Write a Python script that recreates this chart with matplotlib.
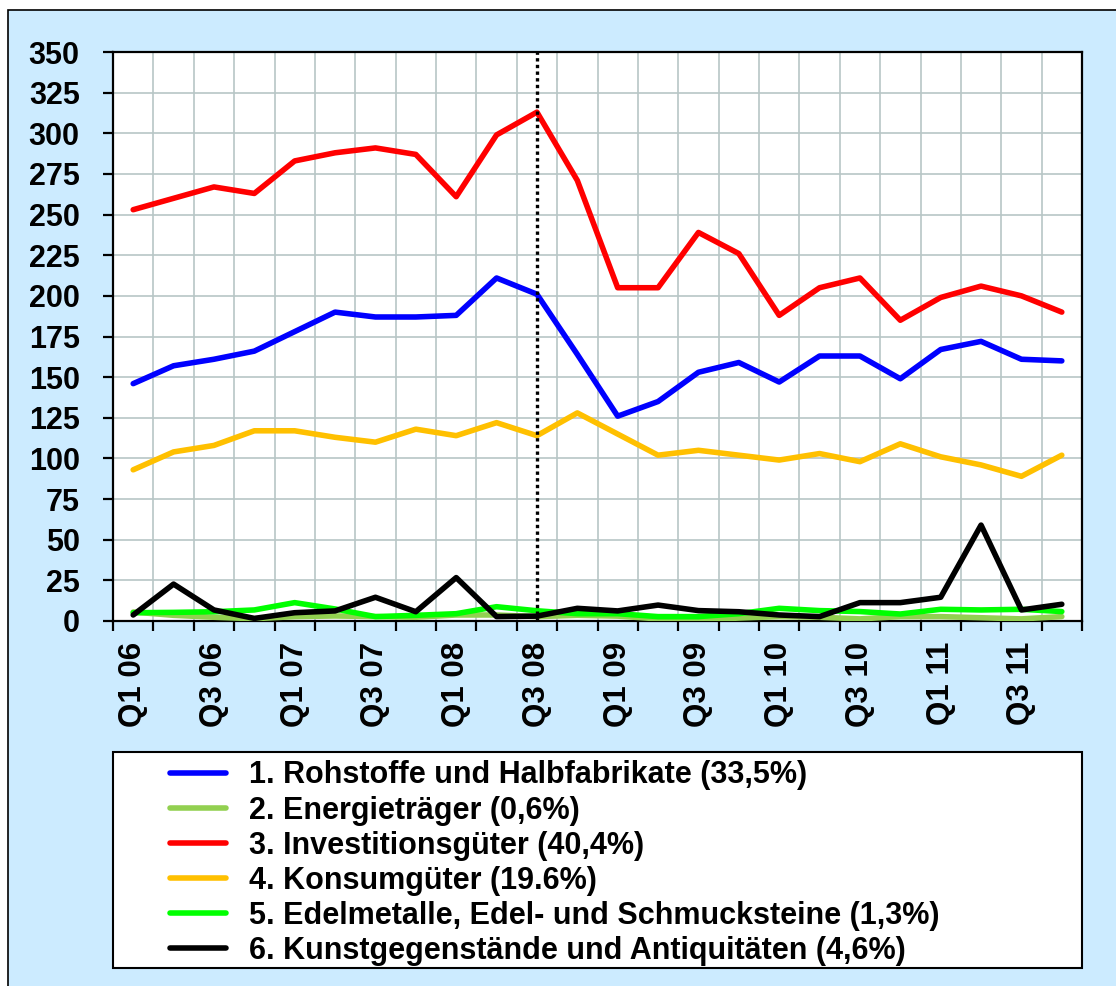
import numpy as np
import matplotlib
matplotlib.use("Agg")
import matplotlib.pyplot as plt
from matplotlib.patches import Rectangle
from matplotlib.ticker import MultipleLocator, FixedLocator

plt.rcParams['font.family'] = ['Liberation Sans', 'DejaVu Sans']
plt.rcParams['font.weight'] = 'bold'

# quarters Q1 06 .. Q4 11
quarters = [f"Q{q} {y:02d}" for y in range(6, 12) for q in range(1, 5)]

rohstoffe = [146, 157, 161, 166, 178, 190, 187, 187, 188, 211, 201, 164,
             126, 135, 153, 159, 147, 163, 163, 149, 167, 172, 161, 160]
energie = [5.5, 3.5, 2.3, 1.4, 2.7, 3.1, 2.7, 2.3, 3.7, 3.7, 2.7, 3.5,
           3.0, 1.3, 0.7, 1.8, 2.7, 2.3, 1.3, 2.7, 2.7, 2.0, 1.3, 2.7]
investition = [253, 260, 267, 263, 283, 288, 291, 287, 261, 299, 313, 271,
               205, 205, 239, 226, 188, 205, 211, 185, 199, 206, 200, 190]
konsum = [93, 104, 108, 117, 117, 113, 110, 118, 114, 122, 114, 128,
          115, 102, 105, 102, 99, 103, 98, 109, 101, 96, 89, 102]
edelmetalle = [5.1, 5.3, 5.7, 6.8, 11.3, 7.4, 2.7, 3.5, 4.5, 8.8, 6.3, 4.5,
               4.5, 2.7, 2.7, 4.5, 7.8, 6.4, 5.8, 4.3, 7.2, 6.8, 7.2, 5.8]
kunst = [3.7, 22.7, 6.8, 1.6, 5.1, 6.2, 14.6, 5.7, 26.7, 2.7, 3.0, 7.8,
         6.2, 9.8, 6.4, 5.7, 3.7, 2.7, 11.3, 11.3, 14.6, 59, 6.8, 10.3]

series = [
    ("1. Rohstoffe und Halbfabrikate (33,5%)", rohstoffe, "#0000FF"),
    ("2. Energieträger (0,6%)", energie, "#92D050"),
    ("3. Investitionsgüter (40,4%)", investition, "#FF0000"),
    ("4. Konsumgüter (19.6%)", konsum, "#FFC000"),
    ("5. Edelmetalle, Edel- und Schmucksteine (1,3%)", edelmetalle, "#00FF00"),
    ("6. Kunstgegenstände und Antiquitäten (4,6%)", kunst, "#000000"),
]
crisis_idx = 10  # Q3 08

W, H = 1116, 986
fig = plt.figure(figsize=(W / 100, H / 100), dpi=100)
fig.patch.set_facecolor("white")

# light blue chart area with black border
fig.add_artist(Rectangle((8 / W, -0.1), 1.2, 1 - 10 / H + 0.1, transform=fig.transFigure,
                         facecolor="#CCEBFF", edgecolor="black", lw=1.2, zorder=-2))
# legend box
fig.add_artist(Rectangle((113 / W, 1 - 968 / H), (1082 - 113) / W, (968 - 752) / H,
                         transform=fig.transFigure, facecolor="white",
                         edgecolor="black", lw=1.5, zorder=1))

ax = fig.add_axes([113 / W, 1 - 621 / H, (1082 - 113) / W, (621 - 52) / H])
ax.set_facecolor("white")

x = np.arange(len(quarters))
for name, vals, col in series:
    ax.plot(x, vals, color=col, lw=4.0, label=name,
            solid_joinstyle="round", solid_capstyle="round", zorder=3)

ax.axvline(crisis_idx, color="black", lw=2.4, linestyle=(0, (1, 1)), zorder=4)

ax.set_xlim(-0.5, len(quarters) - 0.5)
ax.set_ylim(0, 350)
ax.yaxis.set_major_locator(MultipleLocator(25))
ax.set_xticks(x[::2])
ax.set_xticklabels(quarters[::2], rotation=90)
ax.xaxis.set_minor_locator(FixedLocator(np.arange(-0.5, len(quarters), 1)))

ax.grid(True, axis="y", which="major", color="#B7C6C6", lw=1.2, zorder=0)
ax.grid(True, axis="x", which="minor", color="#B7C6C6", lw=1.2, zorder=0)
ax.set_axisbelow(True)

for s in ax.spines.values():
    s.set_linewidth(1.6)
    s.set_color("black")

ax.tick_params(axis="y", which="major", direction="out", length=7.5, width=1.6,
               labelsize=22, pad=16.5)
ax.tick_params(axis="x", which="major", length=0, labelsize=22.5, pad=15)
ax.tick_params(axis="x", which="minor", direction="out", length=7.5, width=1.6)

leg = fig.legend(loc="upper left", bbox_to_anchor=(142 / W, 1 - 733 / H),
                 frameon=False, fontsize=22, handlelength=1.86, handletextpad=0.75,
                 labelspacing=0.165, borderpad=0.4)
for ln in leg.get_lines():
    ln.set_linewidth(4)
    ln.set_solid_capstyle("round")

fig.savefig("out.png", dpi=100)
